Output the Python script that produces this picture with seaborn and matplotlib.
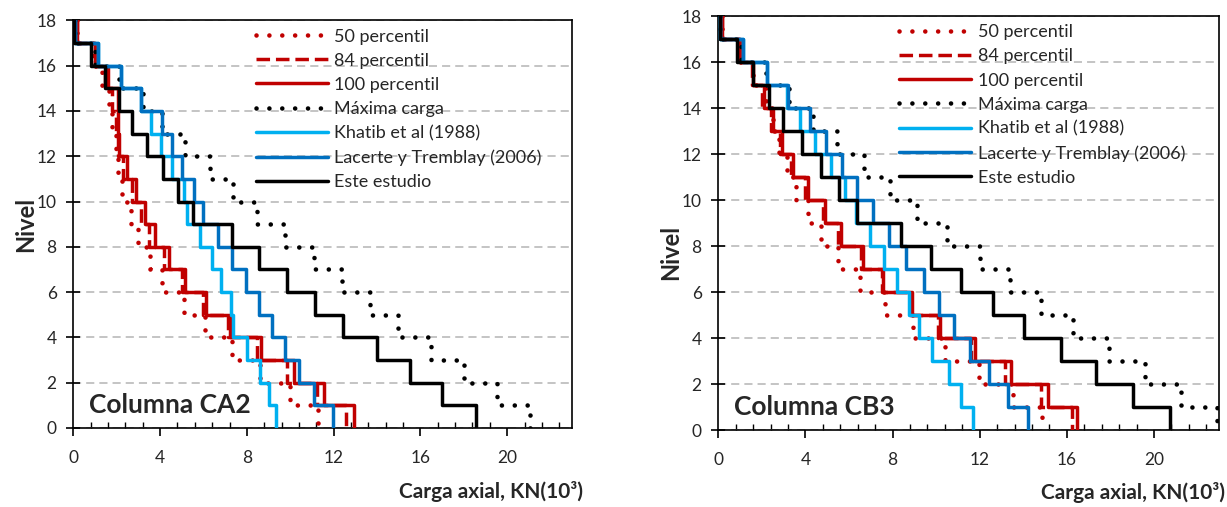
import matplotlib
matplotlib.use("Agg")
import matplotlib.pyplot as plt
from matplotlib.ticker import MultipleLocator
import seaborn as sns
import pandas as pd

# ---------------- data (axial load, kN x 10^3, for story intervals 0-1, 1-2, ..., 17-18) -------------
levels = list(range(19))  # 0..18

series_labels = ["50 percentil", "84 percentil", "100 percentil", "Máxima carga",
                 "Khatib et al (1988)", "Lacerte y Tremblay (2006)", "Este estudio"]

p50_CA2 = [11.3, 10.0, 8.6, 7.3, 6.08, 5.1, 4.1, 3.54, 3.0, 2.65, 2.25, 2.05, 1.95, 1.8, 1.65, 1.3, 0.9, 0.15]
p84_CA2 = [12.58, 11.23, 9.85, 8.46, 7.15, 6.0, 5.0, 4.2, 3.5, 3.1, 2.7, 2.3, 2.05, 1.95, 1.8, 1.45, 1.0, 0.15]
p100_CA2 = [12.92, 11.57, 10.15, 8.65, 7.23, 6.12, 5.15, 4.4, 3.77, 3.31, 2.88, 2.46, 2.1, 2.08, 2.05, 1.6, 1.0, 0.15]
max_CA2 = [21.05, 19.54, 18.0, 16.5, 14.97, 13.66, 12.38, 11.08, 9.77, 8.46, 7.38, 6.31, 5.15, 4.1, 3.2, 2.1, 1.0, 0.1]
khatib_CA2 = [9.35, 9.0, 8.6, 8.0, 7.38, 7.25, 6.8, 6.38, 5.85, 5.23, 5.08, 4.57, 4.05, 3.58, 3.1, 2.2, 1.15, 0.1]
lacerte_CA2 = [11.95, 11.1, 10.4, 9.77, 9.15, 8.58, 7.97, 7.31, 6.65, 6.0, 5.58, 5.03, 4.57, 4.1, 3.12, 2.2, 1.15, 0.1]
este_CA2 = [18.54, 17.0, 15.5, 14.0, 12.45, 11.12, 9.84, 8.55, 7.31, 5.54, 4.83, 4.13, 3.42, 2.7, 2.1, 1.46, 0.8, 0.05]

p50_CB3 = [14.87, 13.54, 11.97, 10.42, 8.94, 7.65, 6.52, 5.5, 4.7, 4.1, 3.57, 3.15, 2.8, 2.5, 2.2, 1.6, 0.9, 0.15]
p84_CB3 = [16.25, 14.8, 13.15, 11.6, 10.1, 8.8, 7.5, 6.55, 5.5, 4.8, 4.0, 3.35, 2.85, 2.4, 2.0, 1.55, 1.0, 0.15]
p100_CB3 = [16.48, 15.12, 13.43, 11.78, 10.2, 8.9, 7.56, 6.64, 5.64, 4.91, 4.14, 3.45, 2.92, 2.5, 2.1, 1.6, 1.0, 0.15]
max_CB3 = [22.9, 21.26, 19.6, 17.95, 16.3, 14.8, 13.4, 12.01, 10.51, 9.1, 7.9, 6.67, 5.43, 4.35, 3.25, 2.2, 1.05, 0.1]
khatib_CB3 = [11.7, 11.16, 10.59, 9.82, 9.21, 8.75, 8.21, 7.6, 6.98, 6.3, 5.8, 5.18, 4.43, 3.73, 3.15, 2.23, 1.12, 0.1]
lacerte_CB3 = [14.2, 13.28, 12.45, 11.55, 10.8, 10.13, 9.43, 8.6, 7.85, 7.1, 6.37, 5.68, 4.96, 4.22, 3.2, 2.23, 1.12, 0.1]
este_CB3 = [20.72, 19.03, 17.34, 15.73, 14.04, 12.59, 11.15, 9.75, 8.37, 6.37, 5.56, 4.7, 3.84, 2.98, 2.32, 1.58, 0.85, 0.1]

panel_titles = ["Columna CA2", "Columna CB3"]
x_ticks = [0, 4, 8, 12, 16, 20]
y_ticks = [0, 2, 4, 6, 8, 10, 12, 14, 16, 18]

# ---------------- styles ----------------
RED, LBLUE, DBLUE, BLACK = "#C00000", "#00B0F0", "#0070C0", "#000000"
dot = (0, (0.01, 2.8))
styles = [
    dict(color=RED, lw=3.3, linestyle=dot, dash_capstyle="round"),
    dict(color=RED, lw=2.5, linestyle=(0, (3.9, 1.7)), dash_capstyle="butt"),
    dict(color=RED, lw=2.5, linestyle="-"),
    dict(color=BLACK, lw=3.3, linestyle=dot, dash_capstyle="round"),
    dict(color=LBLUE, lw=2.5, linestyle="-"),
    dict(color=DBLUE, lw=2.5, linestyle="-"),
    dict(color=BLACK, lw=2.5, linestyle="-"),
]

sns.set_style("ticks")
plt.rcParams["font.family"] = ["Lato", "DejaVu Sans"]


def step_frame(vals):
    xs, ys = [], []
    for i in range(len(vals) - 1, -1, -1):
        xs += [vals[i], vals[i]]
        ys += [levels[i + 1], levels[i]]
    return pd.DataFrame({"carga": xs, "nivel": ys})


fig = plt.figure(figsize=(12.27, 5.07), dpi=100)
ax1 = fig.add_axes([0.05974, 0.15582, 0.40668, 0.80394])
ax2 = fig.add_axes([0.58541, 0.15187, 0.40831, 0.81657])

panels = [
    (ax1, [p50_CA2, p84_CA2, p100_CA2, max_CA2, khatib_CA2, lacerte_CA2, este_CA2],
     dict(leg=(0.366, 0.980), xl=(1.022, -0.157), yl=(-0.095, 0.50))),
    (ax2, [p50_CB3, p84_CB3, p100_CB3, max_CB3, khatib_CB3, lacerte_CB3, este_CB3],
     dict(leg=(0.361, 0.980), xl=(1.012, -0.150), yl=(-0.095, 0.43))),
]

for k, (ax, data, pos) in enumerate(panels):
    for j, (vals, lab, st) in enumerate(zip(data, series_labels, styles)):
        df = step_frame(vals)
        sns.lineplot(data=df, x="carga", y="nivel", sort=False, estimator=None,
                     ax=ax, label=lab, zorder=3 + j, **st)
    ax.set_xlim(0, 23)
    ax.set_ylim(0, 18)
    ax.set_xticks(x_ticks)
    ax.set_yticks(y_ticks)
    ax.xaxis.set_minor_locator(MultipleLocator(0.8))
    ax.tick_params(axis="x", which="major", direction="out", length=5.5, width=1.2,
                   labelsize=12.5, pad=10, color="black")
    ax.tick_params(axis="x", which="minor", direction="in", length=4, width=1.0, color="black")
    ax.tick_params(axis="y", which="major", direction="inout", length=10, width=1.2,
                   labelsize=12.5, pad=7, color="black")
    for s in ax.spines.values():
        s.set_color("black")
        s.set_linewidth(1.2)
    ax.yaxis.grid(True, color="#BFBFBF", linestyle=(0, (4.5, 2.8)), linewidth=1.3)
    ax.xaxis.grid(False)
    ax.set_axisbelow(True)

    ax.set_xlabel("Carga axial, KN(10³)", fontsize=15, fontweight="bold", ha="right", va="center")
    ax.xaxis.set_label_coords(*pos["xl"])
    ax.set_ylabel("Nivel", fontsize=17, fontweight="bold", va="center")
    ax.yaxis.set_label_coords(*pos["yl"])

    ax.text(0.72, 1.0, panel_titles[k], fontsize=19, fontweight="bold", ha="left", va="center",
            zorder=20)

    ax.legend(loc="upper left", bbox_to_anchor=pos["leg"], frameon=False, fontsize=13,
              handlelength=4.0, handletextpad=0.35, labelspacing=0.45, borderpad=0,
              borderaxespad=0)

fig.savefig("out.png", dpi=100)
